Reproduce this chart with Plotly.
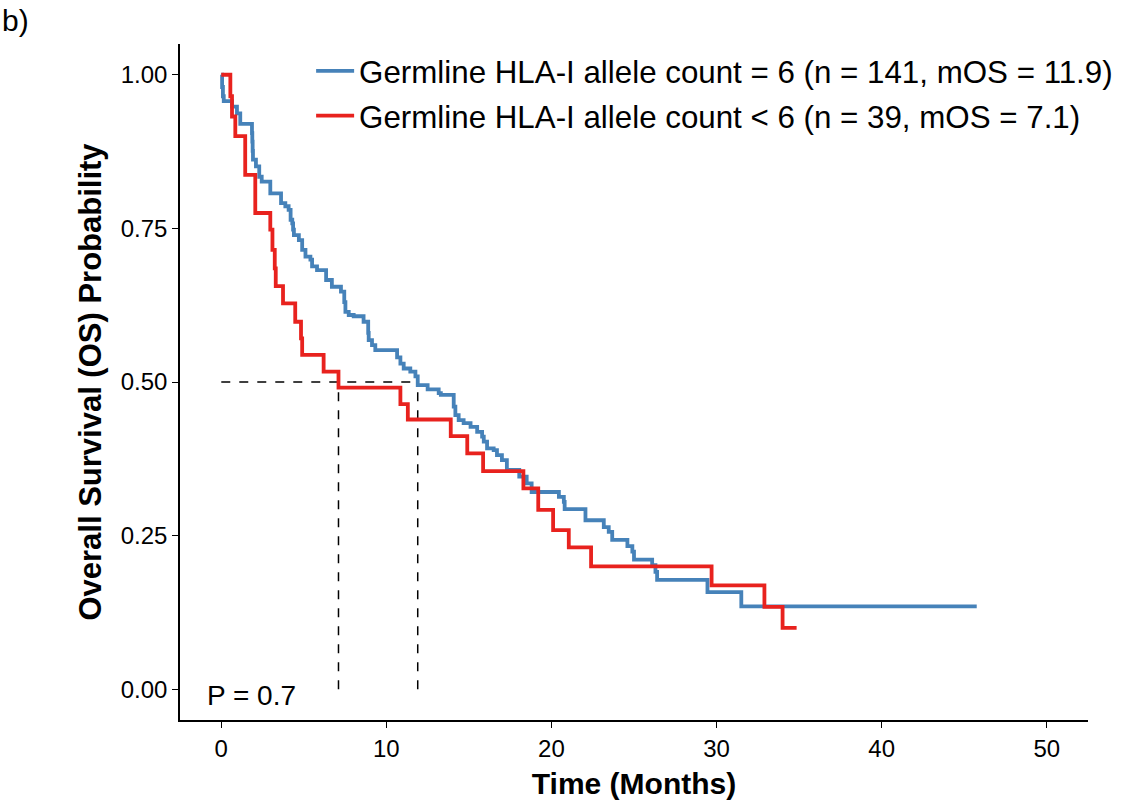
import plotly.graph_objects as go

# ---- data ----
blue_label = "Germline HLA-I allele count = 6 (n = 141, mOS = 11.9)"
red_label = "Germline HLA-I allele count < 6 (n = 39, mOS = 7.1)"

blue_time = [0, 0.05, 0.1, 0.15, 0.65, 0.95, 1.15, 1.86, 1.88, 1.90, 1.92, 2.1, 2.3, 2.45,
             2.97, 3.62, 3.88, 4.08, 4.2, 4.3, 4.35, 4.4, 4.7, 4.9, 5.1, 5.4, 5.5, 5.8,
             6.35, 6.7, 7.25, 7.45, 7.52, 7.72, 8.02, 8.62, 8.9, 8.93, 9.13, 9.33, 10.65,
             10.85, 11.05, 11.45, 11.76, 11.9, 12.5, 13.17, 13.3, 14.08, 14.18, 14.38,
             14.68, 15.1, 15.5, 15.8, 15.9, 16.1, 16.5, 16.7, 17.0, 17.3, 18.05, 18.5,
             18.8, 20.45, 20.75, 20.8, 22.06, 23.17, 23.47, 23.68, 24.6, 24.9, 25.0,
             26.1, 26.3, 26.4, 29.45, 31.5, 45.76]
blue_surv = [1.0, 0.98, 0.965, 0.957, 0.948, 0.937, 0.920, 0.905, 0.891, 0.876, 0.862,
             0.851, 0.834, 0.826, 0.807, 0.791, 0.786, 0.780, 0.764, 0.758, 0.748, 0.739,
             0.731, 0.715, 0.704, 0.699, 0.688, 0.682, 0.666, 0.655, 0.647, 0.63, 0.614,
             0.609, 0.607, 0.598, 0.58, 0.568, 0.560, 0.552, 0.54, 0.530, 0.522, 0.517,
             0.509, 0.495, 0.488, 0.482, 0.479, 0.46, 0.446, 0.438, 0.433, 0.427, 0.419,
             0.411, 0.403, 0.392, 0.389, 0.381, 0.373, 0.357, 0.346, 0.335, 0.321, 0.313,
             0.305, 0.293, 0.275, 0.264, 0.256, 0.243, 0.233, 0.224, 0.211, 0.202, 0.191,
             0.178, 0.158, 0.135, 0.135]

red_time = [0, 0.55, 0.65, 0.85, 1.45, 2.06, 2.97, 3.1, 3.24, 3.3, 3.74, 4.48, 4.83, 4.9,
            6.2, 7.1, 10.85, 11.3, 13.9, 14.9, 15.86, 18.3, 19.2, 20.1, 21.05, 22.4, 29.7,
            32.9, 34.0, 34.85]
red_surv = [1.0, 0.965, 0.932, 0.900, 0.837, 0.775, 0.748, 0.715, 0.685, 0.656, 0.628,
            0.598, 0.571, 0.544, 0.517, 0.491, 0.464, 0.439, 0.412, 0.384, 0.355, 0.327,
            0.292, 0.259, 0.231, 0.200, 0.169, 0.134, 0.100, 0.100]

median_os = [7.1, 11.9]
median_level = 0.5
p_value_text = "P = 0.7"

x_ticks = [0, 10, 20, 30, 40, 50]
y_ticks = [0, 0.25, 0.5, 0.75, 1.0]
y_tick_text = ["0.00", "0.25", "0.50", "0.75", "1.00"]

BLUE = "#4682B9"
RED = "#E8221E"
FONT = "Liberation Sans, Arial, Helvetica, sans-serif"

fig = go.Figure()

# median reference lines
fig.add_trace(go.Scatter(x=[0, max(median_os)], y=[median_level, median_level],
                         mode="lines", line=dict(color="black", width=1.5, dash="dash"),
                         showlegend=False, hoverinfo="skip"))
for m in median_os:
    fig.add_trace(go.Scatter(x=[m, m], y=[0, median_level], mode="lines",
                             line=dict(color="black", width=1.5, dash="dash"),
                             showlegend=False, hoverinfo="skip"))

fig.add_trace(go.Scatter(x=blue_time, y=blue_surv, mode="lines", line_shape="hv",
                         line=dict(color=BLUE, width=3.8), name=blue_label,
                         legendgroup="a"))
fig.add_trace(go.Scatter(x=red_time, y=red_surv, mode="lines", line_shape="hv",
                         line=dict(color=RED, width=3.8), name=red_label,
                         legendgroup="b"))

fig.add_annotation(x=-1.0, y=-0.01, xref="x", yref="y", text=p_value_text,
                   showarrow=False, xanchor="left", yanchor="middle",
                   font=dict(size=28, color="black", family=FONT))
fig.add_annotation(x=-0.198, y=1.062, xref="paper", yref="paper", text="b)",
                   showarrow=False, xanchor="left", yanchor="top",
                   font=dict(size=30, color="black", family=FONT))

fig.update_layout(
    width=1126, height=804,
    margin=dict(l=180, r=38, t=44, b=84, autoexpand=False),
    paper_bgcolor="white", plot_bgcolor="white",
    font=dict(family=FONT, color="black"),
    legend=dict(x=0.1444, y=1.0, xanchor="left", yanchor="top",
                bgcolor="rgba(0,0,0,0)", font=dict(size=31.3, family=FONT),
                itemwidth=38, tracegroupgap=1),
    xaxis=dict(range=[-2.5, 52.5], tickvals=x_ticks, ticks="outside", ticklen=6,
               tickwidth=1.3, tickcolor="black", showline=True, linecolor="black",
               linewidth=1.5, showgrid=False, zeroline=False,
               tickfont=dict(size=24, family=FONT),
               title=dict(text="<b>Time (Months)</b>", font=dict(size=30, family=FONT),
                          standoff=12)),
    yaxis=dict(range=[-0.05, 1.05], tickvals=y_ticks, ticktext=y_tick_text,
               ticks="outside", ticklen=6, tickwidth=1.3, tickcolor="black",
               showline=True, linecolor="black", linewidth=1.5, showgrid=False,
               zeroline=False, tickfont=dict(size=24, family=FONT),
               title=dict(text="<b>Overall Survival (OS) Probability</b>",
                          font=dict(size=31, family=FONT), standoff=10)),
)

fig.write_html("out.html",
               config={"displayModeBar": False},
               post_script="document.body.style.margin='0';"
                           "document.body.style.overflow='hidden';")
